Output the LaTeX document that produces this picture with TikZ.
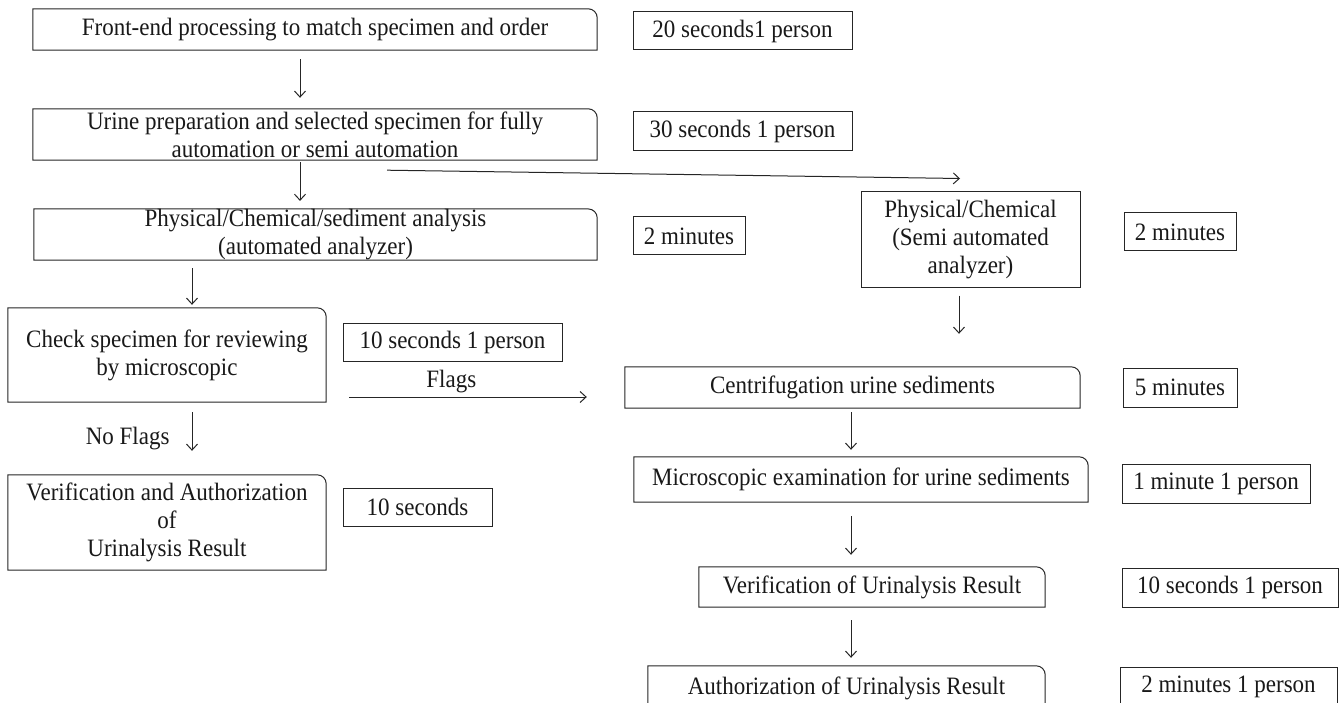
\documentclass[tikz,border=0pt]{standalone}
\usepackage{fontspec}
\setmainfont{Liberation Serif}[FakeStretch=0.92]
\usetikzlibrary{arrows.meta}
\tikzset{
  base/.style={inner sep=0pt, align=center, font=\fontsize{25}{28}\selectfont, text=black!90},
  tbox/.style={base, draw=black!85, line width=1pt},
  rbox/.style={base, append after command={\pgfextra{\draw[line width=1pt, draw=black!85]
     (\tikzlastnode.south west) -- (\tikzlastnode.north west) -- ([xshift=-9pt]\tikzlastnode.north east)
     arc[start angle=90, end angle=0, radius=9pt] -- (\tikzlastnode.south east) -- cycle;}}},
  arr/.style={draw=black!85, line width=1pt, -{Straight Barb[length=6pt,width=11pt]}},
  lbl/.style={base, inner sep=0pt},
}
\begin{document}
\begin{tikzpicture}[x=1pt, y=-1pt]
\clip (0,0) rectangle (1343,703);
\fill[white] (0,0) rectangle (1343,703);
% left column
\node[rbox, minimum width=564pt, minimum height=41pt] (B1) at (315,29.5) {Front-end processing to match specimen and order};
\node[rbox, minimum width=564pt, minimum height=51pt] (B2) at (315,134.5) {Urine preparation and selected specimen for fully\\automation or semi automation};
\node[rbox, minimum width=563pt, minimum height=49pt] (B3) at (315.5,234.5) {Physical/Chemical/sediment analysis\\(automated analyzer)};
\node[rbox, minimum width=318pt, minimum height=94pt] (B4) at (167,355) {Check specimen for reviewing\\by microscopic};
\node[rbox, minimum width=318pt, minimum height=95pt] (B5) at (167,522.5) {Verification and Authorization\\of\\Urinalysis Result};
% time boxes
\node[tbox, minimum width=219pt, minimum height=38pt] (T1) at (742.5,31) {20 seconds1 person};
\node[tbox, minimum width=219pt, minimum height=39pt] (T2) at (742.5,131.5) {30 seconds 1 person};
\node[tbox, minimum width=112pt, minimum height=38pt] (T3) at (689,236) {2 minutes};
\node[tbox, minimum width=219pt, minimum height=38pt] (T4) at (452.5,342) {10 seconds 1 person};
\node[tbox, minimum width=149pt, minimum height=38pt] (T5) at (417.5,507) {10 seconds};
% right column
\node[tbox, minimum width=219pt, minimum height=95pt] (S) at (970.5,239.5) {Physical/Chemical\\(Semi automated\\analyzer)};
\node[tbox, minimum width=112pt, minimum height=38pt] (T6) at (1180,232) {2 minutes};
\node[rbox, minimum width=455pt, minimum height=41pt] (C) at (852.5,387.5) {Centrifugation urine sediments};
\node[tbox, minimum width=114pt, minimum height=39pt] (T7) at (1180,387.5) {5 minutes};
\node[rbox, minimum width=454pt, minimum height=45pt] (M) at (861,479.5) {Microscopic examination for urine sediments};
\node[tbox, minimum width=188pt, minimum height=39pt] (T8) at (1216,483.5) {1 minute 1 person};
\node[rbox, minimum width=346pt, minimum height=40pt] (V) at (872,587) {Verification of Urinalysis Result};
\node[tbox, minimum width=216pt, minimum height=39pt] (T9) at (1230,587.5) {10 seconds 1 person};
\node[rbox, minimum width=397pt, minimum height=44pt] (A) at (846.5,688) {Authorization of Urinalysis Result};
\node[tbox, minimum width=217pt, minimum height=40pt] (T10) at (1228.5,687) {2 minutes 1 person};
% connectors
\draw[arr, shorten <=9pt, shorten >=11pt] ([xshift=-15pt]B1.south) -- ([xshift=-15pt]B2.north);
\draw[arr, shorten <=2pt, shorten >=8pt] ([xshift=-15pt]B2.south) -- ([xshift=-15.5pt]B3.north);
\draw[arr] ([xshift=72pt, yshift=-10pt]B2.south) -- ([xshift=-10.5pt, yshift=13pt]S.north);
\draw[arr, shorten <=8pt, shorten >=3pt] ([xshift=-123.5pt]B3.south) -- ([xshift=25pt]B4.north);
\draw[arr, shorten <=10pt, shorten >=24pt] ([xshift=25pt]B4.south) -- ([xshift=25pt]B5.north)
  node[lbl, midway, left, xshift=-22pt] (NF) {No Flags};
\draw[arr] ([xshift=23pt, yshift=-42pt]B4.east) -- ([xshift=-38pt, yshift=-9.5pt]C.west)
  node[lbl, pos=0.43, yshift=15pt] (FL) {Flags};
\draw[arr, shorten <=8pt, shorten >=33pt] ([xshift=-11.5pt]S.south) -- ([xshift=106.5pt]C.north);
\draw[arr, shorten <=4pt, shorten >=7pt] ([xshift=-1.5pt]C.south) -- ([xshift=-10pt]M.north);
\draw[arr, shorten <=14pt, shorten >=12pt] ([xshift=-10pt]M.south) -- ([xshift=-21pt]V.north);
\draw[arr, shorten <=13pt, shorten >=8pt] ([xshift=-21pt]V.south) -- ([xshift=4.5pt]A.north);
\end{tikzpicture}
\end{document}
